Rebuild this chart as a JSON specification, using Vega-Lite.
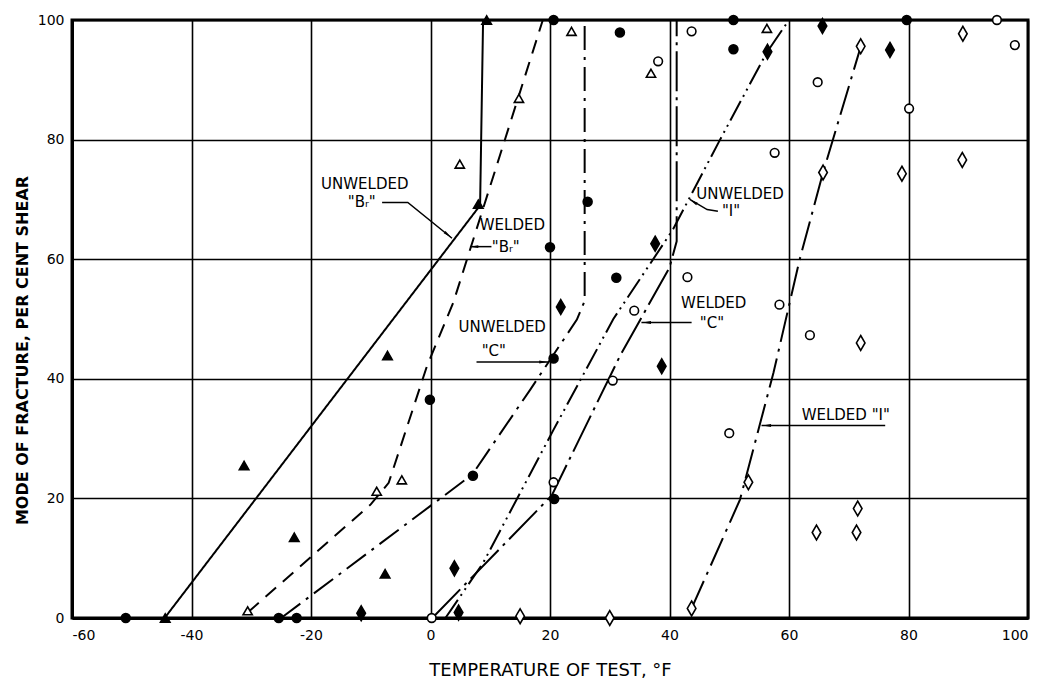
{
  "$schema": "https://vega.github.io/schema/vega-lite/v6.json",
  "width": 956,
  "height": 598,
  "autosize": {"type": "none"},
  "padding": {"left": 72, "top": 20, "right": 17, "bottom": 70},
  "background": "white",
  "config": {
    "view": {"stroke": "black", "strokeWidth": 3},
    "axis": {
      "grid": true, "gridColor": "black", "gridWidth": 1.6, "gridOpacity": 1,
      "ticks": false, "domain": true, "domainColor": "black", "domainWidth": 3,
      "labelFont": "DejaVu Sans", "labelFontSize": 14, "labelColor": "black",
      "titleFont": "DejaVu Sans", "titleColor": "black"
    }
  },
  "resolve": {"scale": {"shape": "independent", "size": "independent", "fill": "independent"}},
  "datasets": {
    "pts": [
      {"s": "Unwelded Br", "x": 9.4, "y": 100}, {"s": "Unwelded Br", "x": 8.0, "y": 69.2},
      {"s": "Unwelded Br", "x": -7.2, "y": 43.9}, {"s": "Unwelded Br", "x": -31.2, "y": 25.5},
      {"s": "Unwelded Br", "x": -22.8, "y": 13.5}, {"s": "Unwelded Br", "x": -7.6, "y": 7.4},
      {"s": "Unwelded Br", "x": -44.4, "y": 0},
      {"s": "Welded Br", "x": 23.6, "y": 98.1}, {"s": "Welded Br", "x": 36.9, "y": 91.1},
      {"s": "Welded Br", "x": 14.8, "y": 86.9}, {"s": "Welded Br", "x": 4.9, "y": 75.9},
      {"s": "Welded Br", "x": -4.8, "y": 23.1}, {"s": "Welded Br", "x": -9.0, "y": 21.2},
      {"s": "Welded Br", "x": -30.6, "y": 1.2}, {"s": "Welded Br", "x": 56.3, "y": 98.6},
      {"s": "Unwelded C", "x": 20.6, "y": 100}, {"s": "Unwelded C", "x": 31.7, "y": 97.9},
      {"s": "Unwelded C", "x": 50.7, "y": 100}, {"s": "Unwelded C", "x": 50.7, "y": 95.1},
      {"s": "Unwelded C", "x": 79.7, "y": 100}, {"s": "Unwelded C", "x": 26.3, "y": 69.6},
      {"s": "Unwelded C", "x": 20.0, "y": 62.0}, {"s": "Unwelded C", "x": 31.1, "y": 56.9},
      {"s": "Unwelded C", "x": 20.6, "y": 43.4}, {"s": "Unwelded C", "x": -0.1, "y": 36.5},
      {"s": "Unwelded C", "x": 7.1, "y": 23.8}, {"s": "Unwelded C", "x": 20.7, "y": 19.9},
      {"s": "Unwelded C", "x": -51.0, "y": 0}, {"s": "Unwelded C", "x": -25.4, "y": 0},
      {"s": "Unwelded C", "x": -22.4, "y": 0},
      {"s": "Welded C", "x": 43.7, "y": 98.1}, {"s": "Welded C", "x": 38.1, "y": 93.1},
      {"s": "Welded C", "x": 94.8, "y": 100}, {"s": "Welded C", "x": 97.8, "y": 95.8},
      {"s": "Welded C", "x": 64.8, "y": 89.6}, {"s": "Welded C", "x": 80.1, "y": 85.2},
      {"s": "Welded C", "x": 57.6, "y": 77.8}, {"s": "Welded C", "x": 43.0, "y": 57.0},
      {"s": "Welded C", "x": 34.1, "y": 51.4}, {"s": "Welded C", "x": 58.4, "y": 52.4},
      {"s": "Welded C", "x": 63.5, "y": 47.3}, {"s": "Welded C", "x": 30.5, "y": 39.7},
      {"s": "Welded C", "x": 50.0, "y": 30.9}, {"s": "Welded C", "x": 20.6, "y": 22.7},
      {"s": "Welded C", "x": 0.2, "y": 0},
      {"s": "Unwelded I", "x": 65.6, "y": 99.0}, {"s": "Unwelded I", "x": 56.4, "y": 94.7},
      {"s": "Unwelded I", "x": 76.9, "y": 95.0}, {"s": "Unwelded I", "x": 37.6, "y": 62.6},
      {"s": "Unwelded I", "x": 21.8, "y": 52.0}, {"s": "Unwelded I", "x": 38.7, "y": 42.1},
      {"s": "Unwelded I", "x": 4.0, "y": 8.3}, {"s": "Unwelded I", "x": 4.7, "y": 0.9},
      {"s": "Unwelded I", "x": -11.6, "y": 0.8},
      {"s": "Welded I", "x": 89.1, "y": 97.7}, {"s": "Welded I", "x": 72.0, "y": 95.6},
      {"s": "Welded I", "x": 65.7, "y": 74.5}, {"s": "Welded I", "x": 78.9, "y": 74.3},
      {"s": "Welded I", "x": 89.0, "y": 76.6}, {"s": "Welded I", "x": 72.0, "y": 46.0},
      {"s": "Welded I", "x": 53.2, "y": 22.7}, {"s": "Welded I", "x": 71.5, "y": 18.3},
      {"s": "Welded I", "x": 64.6, "y": 14.3}, {"s": "Welded I", "x": 71.3, "y": 14.3},
      {"s": "Welded I", "x": 15.0, "y": 0.3}, {"s": "Welded I", "x": 30.0, "y": 0},
      {"s": "Welded I", "x": 43.7, "y": 1.6}
    ],
    "lns": [
      {"s": "Unwelded Br", "o": 1, "x": -44.5, "y": 0}, {"s": "Unwelded Br", "o": 2, "x": 8.3, "y": 69},
      {"s": "Unwelded Br", "o": 3, "x": 8.8, "y": 100},
      {"s": "Welded Br", "o": 1, "x": -30.5, "y": 1}, {"s": "Welded Br", "o": 2, "x": -10, "y": 19},
      {"s": "Welded Br", "o": 3, "x": -7, "y": 22.6}, {"s": "Welded Br", "o": 4, "x": -0.6, "y": 42.1},
      {"s": "Welded Br", "o": 5, "x": 3.8, "y": 52.7}, {"s": "Welded Br", "o": 6, "x": 11.6, "y": 77.3},
      {"s": "Welded Br", "o": 7, "x": 18.8, "y": 100},
      {"s": "Unwelded C", "o": 1, "x": -25, "y": 0}, {"s": "Unwelded C", "o": 2, "x": -4.6, "y": 15.3},
      {"s": "Unwelded C", "o": 3, "x": 7, "y": 24}, {"s": "Unwelded C", "o": 4, "x": 16.7, "y": 38.2},
      {"s": "Unwelded C", "o": 5, "x": 24.5, "y": 49.9}, {"s": "Unwelded C", "o": 6, "x": 25.8, "y": 53},
      {"s": "Unwelded C", "o": 7, "x": 25.8, "y": 100},
      {"s": "Welded C", "o": 1, "x": 0.3, "y": 0}, {"s": "Welded C", "o": 2, "x": 20.3, "y": 20.5},
      {"s": "Welded C", "o": 3, "x": 31.7, "y": 43.8}, {"s": "Welded C", "o": 4, "x": 40, "y": 58.6},
      {"s": "Welded C", "o": 5, "x": 41.2, "y": 63}, {"s": "Welded C", "o": 6, "x": 41.2, "y": 100},
      {"s": "Unwelded I", "o": 1, "x": 2.5, "y": 0}, {"s": "Unwelded I", "o": 2, "x": 8.8, "y": 9.2},
      {"s": "Unwelded I", "o": 3, "x": 20.6, "y": 31.5}, {"s": "Unwelded I", "o": 4, "x": 30.6, "y": 50},
      {"s": "Unwelded I", "o": 5, "x": 40.6, "y": 65}, {"s": "Unwelded I", "o": 6, "x": 48.2, "y": 79.5},
      {"s": "Unwelded I", "o": 7, "x": 56.3, "y": 94.6}, {"s": "Unwelded I", "o": 8, "x": 60, "y": 100},
      {"s": "Welded I", "o": 1, "x": 43.7, "y": 1.6}, {"s": "Welded I", "o": 2, "x": 51.8, "y": 19.8},
      {"s": "Welded I", "o": 3, "x": 57.4, "y": 41}, {"s": "Welded I", "o": 4, "x": 61.8, "y": 60},
      {"s": "Welded I", "o": 5, "x": 65.7, "y": 74.5}, {"s": "Welded I", "o": 6, "x": 72, "y": 95.5}
    ],
    "lbl": [
      {"t": "UNWELDED", "x": -11, "y": 72.5}, {"t": "\"Bᵣ\"", "x": -11.5, "y": 69.5},
      {"t": "WELDED", "x": 13.7, "y": 65.8}, {"t": "\"Bᵣ\"", "x": 12.6, "y": 62.1},
      {"t": "UNWELDED", "x": 12.0, "y": 48.7}, {"t": "\"C\"", "x": 10.6, "y": 44.6},
      {"t": "UNWELDED", "x": 51.8, "y": 70.9}, {"t": "\"I\"", "x": 50.3, "y": 68.0},
      {"t": "WELDED", "x": 47.4, "y": 52.7}, {"t": "\"C\"", "x": 47.1, "y": 49.4},
      {"t": "WELDED \"I\"", "x": 69.5, "y": 34.0}
    ],
    "ldr": [
      {"id": 1, "o": 1, "x": -8.1, "y": 69.5}, {"id": 1, "o": 2, "x": -3.8, "y": 69.5}, {"id": 1, "o": 3, "x": 3.6, "y": 63.5},
      {"id": 2, "o": 1, "x": 10.2, "y": 62.1}, {"id": 2, "o": 2, "x": 6.6, "y": 62.1},
      {"id": 3, "o": 1, "x": 7.7, "y": 42.8}, {"id": 3, "o": 2, "x": 19.7, "y": 42.8},
      {"id": 4, "o": 1, "x": 48.1, "y": 68.0}, {"id": 4, "o": 2, "x": 46.3, "y": 68.3}, {"id": 4, "o": 3, "x": 43.4, "y": 70.0},
      {"id": 5, "o": 1, "x": 43.7, "y": 49.4}, {"id": 5, "o": 2, "x": 35.3, "y": 49.4},
      {"id": 6, "o": 1, "x": 76.1, "y": 32.2}, {"id": 6, "o": 2, "x": 55.4, "y": 32.2}
    ],
    "arr": [
      {"d": "dr", "x": 2.9, "y": 64.1}, {"d": "left", "x": 7.3, "y": 62.1},
      {"d": "right", "x": 18.9, "y": 42.8}, {"d": "ul", "x": 44.0, "y": 69.6},
      {"d": "left", "x": 36.2, "y": 49.4}, {"d": "left", "x": 56.3, "y": 32.2}
    ]
  },
  "encoding": {
    "x": {
      "field": "x", "type": "quantitative",
      "scale": {"domain": [-60, 100], "nice": false, "zero": false},
      "axis": {
        "values": [-60, -40, -20, 0, 20, 40, 60, 80, 100],
        "labelExpr": "replace(datum.label, '−', '-')",
        "labelPadding": 10,
        "title": "TEMPERATURE OF TEST, °F",
        "titleFontSize": 18, "titleFontWeight": "normal",
        "titleY": 52, "titleBaseline": "middle"
      }
    },
    "y": {
      "field": "y", "type": "quantitative",
      "scale": {"domain": [0, 100], "nice": false, "zero": false},
      "axis": {
        "values": [0, 20, 40, 60, 80, 100],
        "labelPadding": 8,
        "title": "MODE  OF  FRACTURE,  PER  CENT  SHEAR",
        "titleFontSize": 16, "titleFontWeight": "bold",
        "titleX": -50, "titleY": 330, "titleAngle": -90,
        "titleBaseline": "middle", "titleAlign": "center"
      }
    }
  },
  "layer": [
    {
      "data": {"name": "lns"},
      "mark": {"type": "line", "color": "black", "strokeWidth": 2},
      "encoding": {
        "detail": {"field": "s", "type": "nominal"},
        "order": {"field": "o", "type": "quantitative"},
        "strokeDash": {
          "field": "s", "type": "nominal", "legend": null,
          "scale": {
            "domain": ["Unwelded Br", "Welded Br", "Unwelded C", "Welded C", "Unwelded I", "Welded I"],
            "range": [[1, 0], [14, 9], [24, 7, 3, 7], [40, 6, 3, 6], [22, 5, 2, 5, 2, 5], [30, 7, 3, 7]]
          }
        }
      }
    },
    {
      "data": {"name": "ldr"},
      "mark": {"type": "line", "color": "black", "strokeWidth": 1.5},
      "encoding": {
        "detail": {"field": "id", "type": "nominal"},
        "order": {"field": "o", "type": "quantitative"}
      }
    },
    {
      "data": {"name": "arr"},
      "mark": {"type": "point", "filled": true, "color": "black", "opacity": 1, "size": 70},
      "encoding": {
        "shape": {
          "field": "d", "type": "nominal", "legend": null,
          "scale": {
            "domain": ["left", "right", "dr", "ul"],
            "range": ["M-1,0L1,-0.35L1,0.35Z", "M1,0L-1,-0.35L-1,0.35Z", "M0.773,0.635L-0.995,-0.364L-0.551,-0.906Z", "M-0.857,-0.515L1.037,0.215L0.677,0.815Z"]
          }
        }
      }
    },
    {
      "data": {"name": "lbl"},
      "mark": {"type": "text", "font": "DejaVu Sans", "fontSize": 15, "color": "black", "align": "center", "baseline": "middle"},
      "encoding": {"text": {"field": "t", "type": "nominal"}}
    },
    {
      "data": {"name": "pts"},
      "transform": [{"filter": {"field": "s", "oneOf": ["Unwelded Br", "Welded Br", "Unwelded C", "Welded C"]}}],
      "mark": {"type": "point", "filled": true, "stroke": "black", "strokeWidth": 1.6, "opacity": 1},
      "encoding": {
        "shape": {
          "field": "s", "type": "nominal", "legend": null,
          "scale": {
            "domain": ["Unwelded Br", "Welded Br", "Unwelded C", "Welded C"],
            "range": ["triangle-up", "triangle-up", "circle", "circle"]
          }
        },
        "fill": {
          "field": "s", "type": "nominal", "legend": null,
          "scale": {
            "domain": ["Unwelded Br", "Welded Br", "Unwelded C", "Welded C"],
            "range": ["black", "white", "black", "white"]
          }
        },
        "size": {
          "field": "s", "type": "nominal", "legend": null,
          "scale": {
            "domain": ["Unwelded Br", "Welded Br", "Unwelded C", "Welded C"],
            "range": [90, 75, 110, 70]
          }
        }
      }
    },
    {
      "data": {"name": "pts"},
      "transform": [{"filter": {"field": "s", "oneOf": ["Unwelded I", "Welded I"]}}],
      "mark": {"type": "point", "filled": true, "stroke": "black", "strokeWidth": 1.6, "opacity": 1, "shape": "M0,-1L0.58,0L0,1L-0.58,0Z", "size": 220},
      "encoding": {
        "fill": {
          "field": "s", "type": "nominal", "legend": null,
          "scale": {
            "domain": ["Unwelded I", "Welded I"],
            "range": ["black", "white"]
          }
        }
      }
    }
  ]
}
